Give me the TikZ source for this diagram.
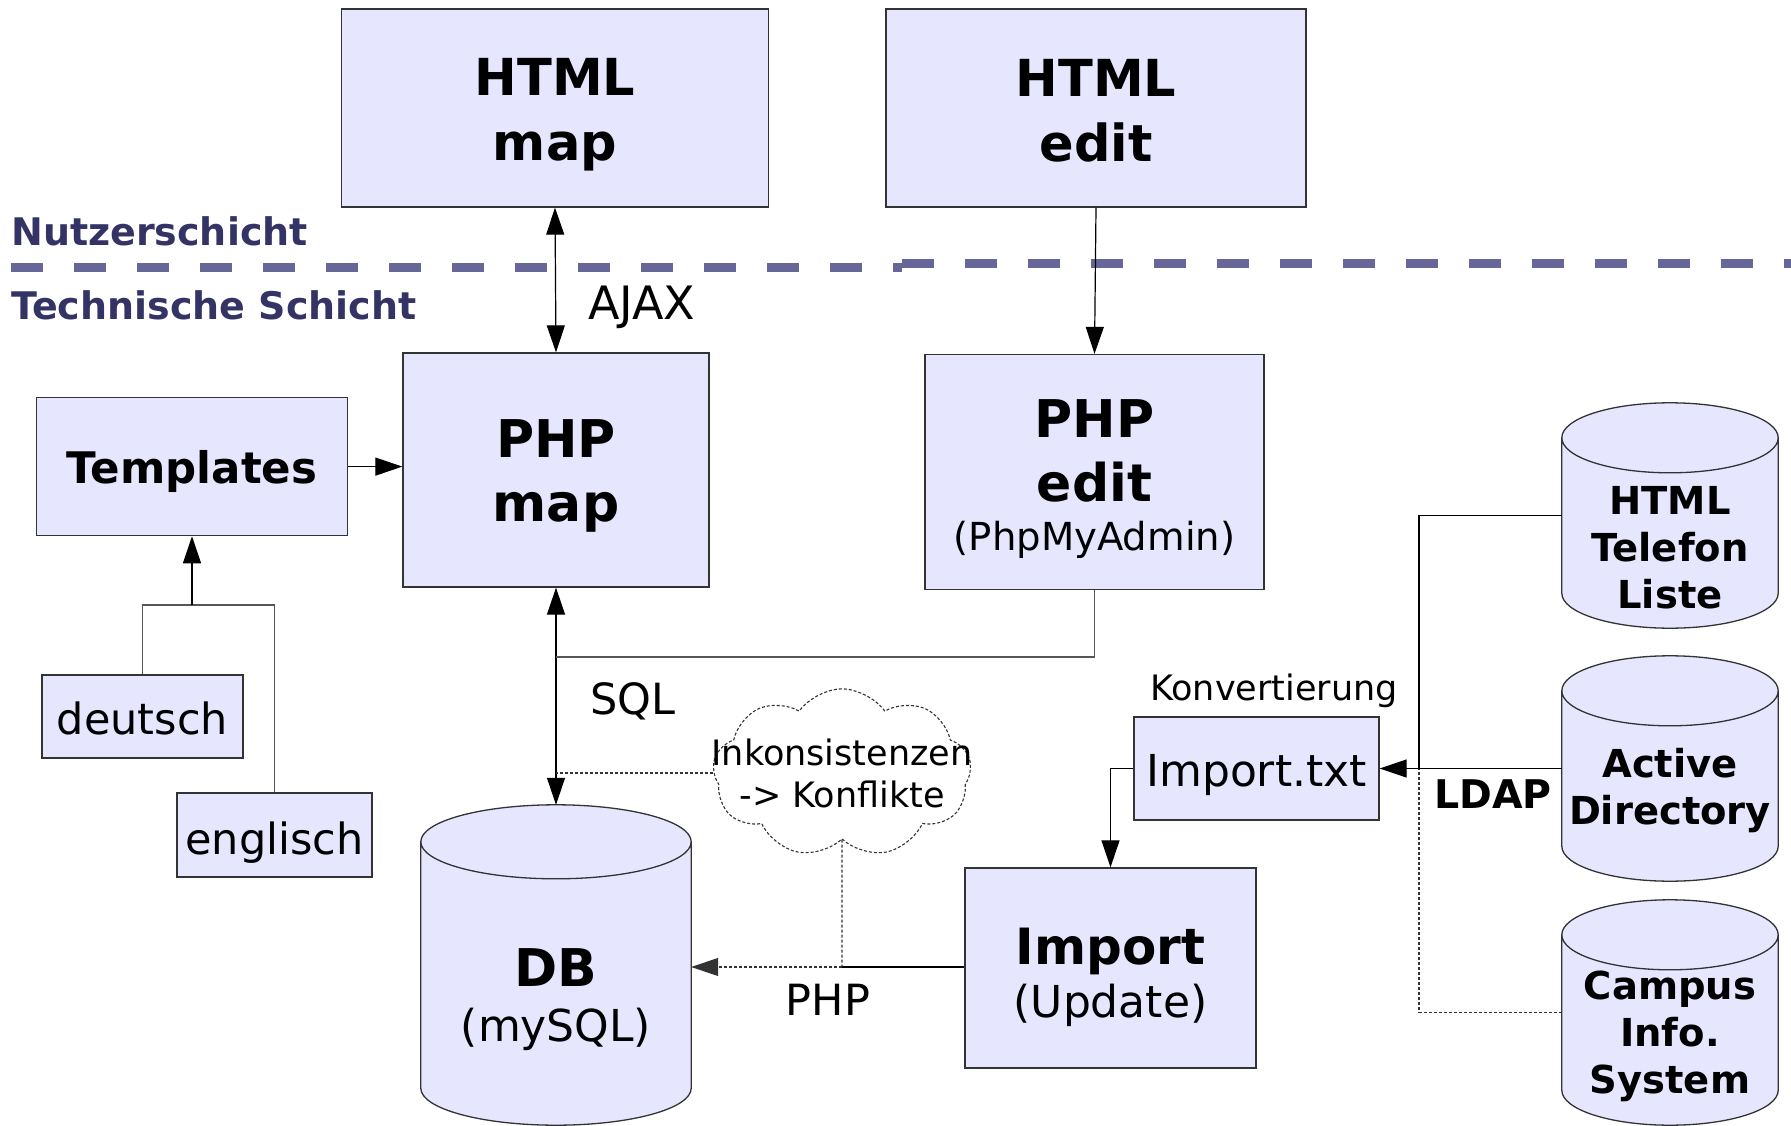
\documentclass[tikz,border=0pt]{standalone}
\usepackage{fontspec}
\setmainfont{DejaVu Sans}
\usetikzlibrary{arrows.meta,shapes.symbols,calc,backgrounds}
\definecolor{boxfill}{HTML}{E6E6FF}
\definecolor{boxline}{HTML}{333333}
\definecolor{navy}{HTML}{333366}
\definecolor{sepcol}{HTML}{666699}
\definecolor{graylink}{HTML}{555555}
\newcommand{\fsz}[2]{\fontsize{#1}{#2}\selectfont}
\newcommand{\sd}[2]{\raisebox{-#1}[\height][\depth]{#2}}
\newcommand{\lowered}[2]{\raisebox{#1}[0pt][0pt]{\begin{tabular}{@{}c@{}}#2\end{tabular}}}
\newcommand{\cylinderpath}[2]{%
  \path let \p1=(#1.north west), \p2=(#1.south east) in
    [fill=boxfill, draw=boxline, line width=1.3pt]
    (\x1,\y1-#2) -- (\x1,\y2+#2)
    arc[start angle=180, end angle=360, x radius={(\x2-\x1)/2}, y radius=#2]
    -- (\x2,\y1-#2)
    arc[start angle=0, end angle=180, x radius={(\x2-\x1)/2}, y radius=#2]
    -- cycle
    (\x1,\y1-#2)
    arc[start angle=180, end angle=360, x radius={(\x2-\x1)/2}, y radius=#2];}

\begin{document}
\begin{tikzpicture}[x=1pt,y=-1pt,
  box/.style={draw=boxline, fill=boxfill, line width=1.3pt, inner sep=0pt, align=center},
  cylnode/.style={inner sep=0pt, align=center, minimum width=216pt, minimum height=225pt, font=\fsz{38.5}{47}\bfseries},
  conn/.style={line width=1.2pt, draw=black},
  grayconn/.style={line width=1.2pt, draw=graylink},
  dotconn/.style={line width=1.1pt, draw=black!80, dash pattern=on 3pt off 2pt},
  tip/.style={-{Triangle[length=27pt,width=18pt]}},
  bitip/.style={{Triangle[length=27pt,width=18pt]}-{Triangle[length=27pt,width=18pt]}},
  sep/.style={line width=9pt, draw=sepcol, dash pattern=on 32pt off 31pt},
  layer/.style={font=\fsz{38}{44}\bfseries, text=navy, anchor=west, inner sep=0pt},
  lbl/.style={font=\fsz{43}{50}, inner sep=0pt}
]
\useasboundingbox (0,0) rectangle (1791,1126);

% layer separator
\draw[sep] (11,267) -- (902,267);
\draw[sep] (902,263) -- (1791,263);
\node[layer] (nutzer) at (11,231) {Nutzerschicht};
\node[layer] (technik) at (11,305) {Technische Schicht};

% boxes
\node[box, font=\fsz{51}{65}\bfseries, minimum width=427pt, minimum height=198pt] (hmap) at (555,108)
  {\sd{7pt}{HTML}\\\sd{7pt}{map}};
\node[box, font=\fsz{51}{65}\bfseries, minimum width=420pt, minimum height=198pt] (hedit) at (1096,108)
  {\sd{3pt}{HTML}\\\sd{3pt}{edit}};
\node[box, font=\fsz{52}{64}\bfseries, minimum width=306pt, minimum height=234pt] (pmap) at (556,470)
  {\sd{6pt}{PHP}\\\sd{6pt}{map}};
\node[box, font=\fsz{52}{64}\bfseries, minimum width=339pt, minimum height=235pt] (pedit) at (1094.5,472)
  {\sd{7pt}{PHP}\\\sd{7pt}{edit}\\[-15pt]{\fsz{38.6}{51}\mdseries \sd{7pt}{(PhpMyAdmin)}}};
\node[box, font=\fsz{43.5}{50}\bfseries, minimum width=311pt, minimum height=138pt] (tmpl) at (192,466.6)
  {\sd{5pt}{Templates}};
\node[box, font=\fsz{43}{50}, minimum width=201pt, minimum height=83pt] (de) at (142.5,716.5) {\sd{2pt}{deutsch}};
\node[box, font=\fsz{43}{50}, minimum width=195pt, minimum height=84pt] (en) at (274.5,835) {\sd{8pt}{englisch}};
\node[box, font=\fsz{50}{55}\bfseries, minimum width=291pt, minimum height=200pt] (imp) at (1110.5,968)
  {\sd{9pt}{Import}\\[-2pt]{\fsz{44}{55}\mdseries \sd{9pt}{(Update)}}};
\node[box, font=\fsz{44}{50}, minimum width=245pt, minimum height=103pt] (imptxt) at (1256.5,768.5)
  {\sd{7pt}{Import.txt}};

% cylinders
\node[cylnode, minimum width=270pt, minimum height=320pt, font=\fsz{44}{55}] (db) at (556,965)
  {\lowered{-44pt}{{\fsz{52}{55}\bfseries DB}\\(mySQL)}};
\node[cylnode] (htl) at (1670,515.5) {\lowered{-43pt}{HTML\\Telefon\\Liste}};
\node[cylnode] (ad) at (1670,768.5) {\lowered{-29pt}{Active\\Directory}};
\node[cylnode] (cis) at (1670,1012.5) {\lowered{-31pt}{Campus\\Info.\\System}};
\begin{scope}[on background layer]
  \cylinderpath{db}{37pt}
  \cylinderpath{htl}{35pt}
  \cylinderpath{ad}{35pt}
  \cylinderpath{cis}{35pt}
\end{scope}

% cloud
\node[cloud, cloud puffs=9, cloud puff arc=110, aspect=1.9, draw=black!80, line width=1.1pt,
      dash pattern=on 3pt off 2pt, fill=white, inner xsep=-43pt, inner ysep=12pt,
      align=center, font=\fsz{35}{42}]
  (cloud) at (842,773) {Inkonsistenzen\\-> Konflikte};

% labels
\node[lbl, font=\fsz{46}{50}, anchor=west] (ajax) at (588,307) {AJAX};
\node[lbl, anchor=west] (sql) at (590,701) {SQL};
\node[lbl] (php) at (828,1000) {PHP};
\node[lbl, font=\fsz{39.5}{46}\bfseries] (ldap) at (1493,794) {LDAP};
\node[lbl, font=\fsz{35}{40}] (konv) at (1274,691) {Konvertierung};

% connectors
\draw[conn, bitip] (hmap.south) -- (pmap.north);
\draw[conn, tip] (hedit.south) -- (pedit.north);
\draw[conn, tip] (tmpl.east) -- (tmpl.east -| pmap.west);

\coordinate (tj) at (192,605);
\draw[grayconn] (de.north) |- (tj) -| (en.north);
\draw[conn, tip] (tj) -- (tmpl.south);

\draw[conn, bitip] (pmap.south) -- (db.north);
\coordinate (sqlj) at (556,657);
\draw[grayconn] (pedit.south) |- (sqlj);
\draw[dotconn] (cloud.west) -- (cloud.west -| pmap.south);

\coordinate (phpj) at (842,967);
\draw[dotconn] (cloud.south) -- (phpj);
\draw[conn] (imp.west |- phpj) -- (phpj);
\draw[dotconn, tip] (phpj) -- (phpj -| db.east);

\draw[conn, tip] (imptxt.west) -| (imp.north);
\draw[conn, tip] (ad.west) -- (imptxt.east);
\coordinate (lj) at (1419,768.5);
\draw[conn] (htl.west) -| (lj);
\draw[dotconn] (cis.west) -| (lj);
\end{tikzpicture}
\end{document}
